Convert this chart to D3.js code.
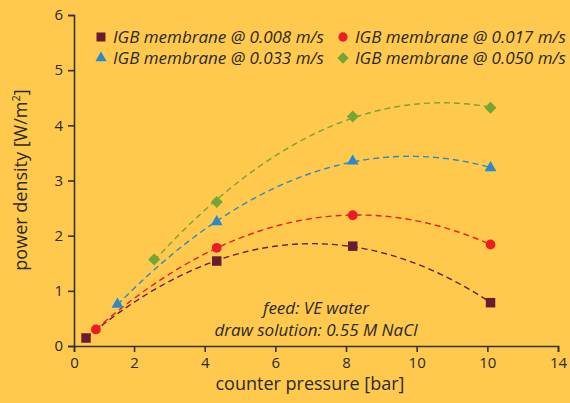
<!DOCTYPE html>
<html><head><meta charset="utf-8">
<script src="https://cdn.jsdelivr.net/npm/d3@7"></script>
<style>
html,body{margin:0;padding:0;background:#FEC94C;}
svg{display:block;}
text{font-family:"Open Sans","Noto Sans",sans-serif;fill:#2a2a2a;}
</style></head>
<body>
<svg id="chart" width="570" height="403"></svg>
<script>
// ---- data ----
const seriesNames = ["IGB membrane @ 0.008 m/s","IGB membrane @ 0.017 m/s","IGB membrane @ 0.033 m/s","IGB membrane @ 0.050 m/s"];
const s008x = [0.64, 4.34, 8.19, 12.09];
const s008y = [0.145, 1.54, 1.81, 0.785];
const s017x = [0.92, 4.34, 8.19, 12.09];
const s017y = [0.30, 1.78, 2.37, 1.84];
const s033x = [1.53, 4.34, 8.19, 12.09];
const s033y = [0.755, 2.25, 3.35, 3.23];
const s050x = [2.57, 4.34, 8.19, 12.09];
const s050y = [1.57, 2.61, 4.16, 4.32];
const xTickValues = [0.3, 2, 4, 6, 8, 10, 12, 14];
const xTickLabels = ["0","2","4","6","8","10","10","14"];
const yTickValues = [0,1,2,3,4,5,6];
const annotation = ["feed: VE water","draw solution: 0.55 M NaCl"];

const colors = ["#6B1A33","#EC1C24","#2A8AC9","#76A536"];
const symbols = [d3.symbolSquare, d3.symbolCircle, d3.symbolTriangle, d3.symbolSquare];
const symRot = [0, 0, 0, 45];
const symSizes = [90, 75, 60, 72];
const xs = [s008x, s017x, s033x, s050x];
const ys = [s008y, s017y, s033y, s050y];

const svg = d3.select("#chart");
const x = d3.scaleLinear().domain([0.3, 14]).range([74, 558]);
const y = d3.scaleLinear().domain([0, 6]).range([346, 15]);
const axisColor = "#333";

// axes
const xAxis = d3.axisBottom(x).tickValues(xTickValues).tickFormat((d,i)=>xTickLabels[i]).tickSizeOuter(0).tickSize(6).tickPadding(5);
const gx = svg.append("g").attr("transform","translate(0,346)").call(xAxis);
const yAxis = d3.axisLeft(y).tickValues(yTickValues).tickFormat(d3.format("d")).tickSizeOuter(0).tickSize(6).tickPadding(5);
const gy = svg.append("g").attr("transform","translate(74,0)").call(yAxis);
[gx,gy].forEach(g=>{
  g.selectAll("path,line").attr("stroke",axisColor).attr("stroke-width",1.6);
  g.selectAll("text").style("font-size","15px").attr("fill","#2a2a2a");
});

// axis titles
svg.append("text").attr("x",310).attr("y",390).attr("text-anchor","middle")
  .style("font-size","18px").text("counter pressure [bar]");
const yt = svg.append("text").attr("transform","translate(27,180) rotate(-90)").attr("text-anchor","middle")
  .style("font-size","18px");
yt.append("tspan").text("power density [W/m");
yt.append("tspan").attr("dy",-7).style("font-size","11px").text("2");
yt.append("tspan").attr("dy",7).text("]");

// quadratic least squares fit (trend lines)
function fit2(xv, yv){
  let S=[0,0,0,0,0], T=[0,0,0];
  xv.forEach((xi,i)=>{for(let k=0;k<5;k++)S[k]+=Math.pow(xi,k);for(let k=0;k<3;k++)T[k]+=yv[i]*Math.pow(xi,k);});
  const A=[[S[0],S[1],S[2],T[0]],[S[1],S[2],S[3],T[1]],[S[2],S[3],S[4],T[2]]];
  for(let i=0;i<3;i++){for(let j=i+1;j<3;j++){const f=A[j][i]/A[i][i];for(let k=i;k<4;k++)A[j][k]-=f*A[i][k];}}
  const c=[0,0,0];
  for(let i=2;i>=0;i--){let s=A[i][3];for(let k=i+1;k<3;k++)s-=A[i][k]*c[k];c[i]=s/A[i][i];}
  return t=>c[0]+c[1]*t+c[2]*t*t;
}
const line = d3.line().x(d=>x(d[0])).y(d=>y(d[1]));
xs.forEach((xv,i)=>{
  const f = fit2(xv, ys[i]);
  const x0=d3.min(xv), x1=d3.max(xv);
  const pts = d3.range(0,61).map(k=>{const t=x0+(x1-x0)*k/60;return [t,f(t)];});
  svg.append("path").attr("d",line(pts)).attr("fill","none").attr("stroke",colors[i])
    .attr("stroke-width",1.4).attr("stroke-dasharray","6,4");
});
xs.forEach((xv,i)=>{
  svg.append("g").selectAll("path").data(xv.map((v,j)=>[v,ys[i][j]])).join("path")
    .attr("transform",d=>`translate(${x(d[0])},${y(d[1])}) rotate(${symRot[i]})`)
    .attr("d",d3.symbol().type(symbols[i]).size(symSizes[i])).attr("fill",colors[i]);
});

// legend
const legPos = [[101,37],[343,37],[101,58],[343,58]];
seriesNames.forEach((n,i)=>{
  const [lx,ly]=legPos[i];
  svg.append("path").attr("transform",`translate(${lx},${ly}) rotate(${symRot[i]})`)
    .attr("d",d3.symbol().type(symbols[i]).size(symSizes[i]*0.9)).attr("fill",colors[i]);
  svg.append("text").attr("x",lx+12).attr("y",ly+6).style("font-size","17px").style("font-style","italic").text(n);
});

// annotation
annotation.forEach((t,i)=>{
  svg.append("text").attr("x",316).attr("y",314+i*22).attr("text-anchor","middle")
    .style("font-size","17px").style("font-style","italic").text(t);
});
</script>
</body></html>
